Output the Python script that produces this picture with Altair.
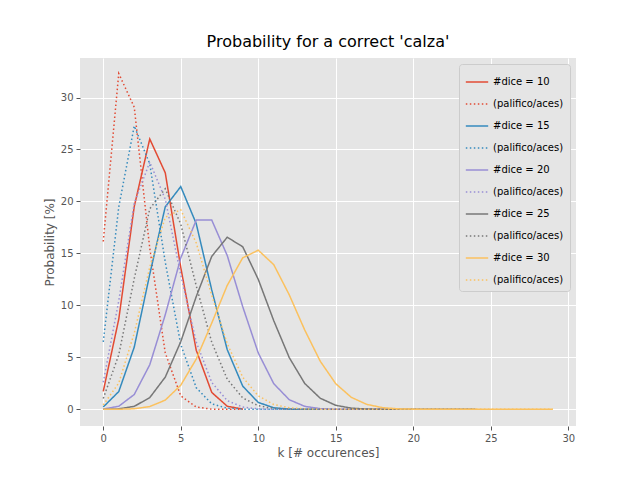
import pandas as pd
import altair as alt

# probabilities in percent (k = 0 .. n-1)
p10 = [1.73, 8.67, 19.51, 26.01, 22.76, 13.66, 5.69, 1.63, 0.30, 0.03]
a10 = [16.15, 32.30, 29.07, 15.50, 5.43, 1.30, 0.22, 0.02, 0.0, 0.0]
p15 = [0.23, 1.71, 5.99, 12.99, 19.48, 21.43, 17.86, 11.48, 5.74, 2.23, 0.67, 0.15, 0.03, 0.0, 0.0]
a15 = [6.49, 19.47, 27.26, 23.62, 14.17, 6.24, 2.08, 0.53, 0.11, 0.02, 0.0, 0.0, 0.0, 0.0, 0.0]
p20 = [0.03, 0.30, 1.43, 4.29, 9.10, 14.56, 18.21, 18.21, 14.80, 9.87, 5.43, 2.47, 0.93, 0.29, 0.07,
       0.01, 0.0, 0.0, 0.0, 0.0]
a20 = [2.61, 10.43, 19.82, 23.79, 20.22, 12.94, 6.47, 2.59, 0.84, 0.22, 0.05, 0.01, 0.0, 0.0, 0.0,
       0.0, 0.0, 0.0, 0.0, 0.0]
p25 = [0.0, 0.05, 0.29, 1.13, 3.10, 6.51, 10.85, 14.72, 16.56, 15.64, 12.51, 8.53, 4.98, 2.49, 1.07,
       0.39, 0.12, 0.03, 0.01, 0.0, 0.0, 0.0, 0.0, 0.0, 0.0]
a25 = [1.05, 5.24, 12.58, 19.29, 21.22, 17.82, 11.88, 6.45, 2.90, 1.10, 0.35, 0.10, 0.02, 0.0, 0.0,
       0.0, 0.0, 0.0, 0.0, 0.0, 0.0, 0.0, 0.0, 0.0, 0.0]
p30 = [0.0, 0.01, 0.06, 0.27, 0.89, 2.32, 4.84, 8.30, 11.93, 14.58, 15.31, 13.92, 11.02, 7.63, 4.63,
       2.47, 1.16, 0.48, 0.17, 0.05, 0.02, 0.0, 0.0, 0.0, 0.0, 0.0, 0.0, 0.0, 0.0, 0.0]
a30 = [0.42, 2.53, 7.33, 13.68, 18.47, 19.21, 16.01, 10.98, 6.31, 3.09, 1.30, 0.47, 0.15, 0.04, 0.01,
       0.0, 0.0, 0.0, 0.0, 0.0, 0.0, 0.0, 0.0, 0.0, 0.0, 0.0, 0.0, 0.0, 0.0, 0.0]

series = [("10", p10), ("10p", a10), ("15", p15), ("15p", a15), ("20", p20), ("20p", a20),
          ("25", p25), ("25p", a25), ("30", p30), ("30p", a30)]
colors = ["#E24A33", "#E24A33", "#348ABD", "#348ABD", "#988ED5", "#988ED5",
          "#777777", "#777777", "#FBC15E", "#FBC15E"]

rows = []
for name, vals in series:
    for k, v in enumerate(vals):
        rows.append({"k": k, "prob": v, "series": name})
df = pd.DataFrame(rows)
order = [s[0] for s in series]
dashes = [[1, 0] if "p" not in s else [1.5, 2.5] for s in order]
label_expr = "test(/p/, datum.label) ? '(palifico/aces)' : '#dice = ' + datum.label"

chart = alt.Chart(df).mark_line(strokeWidth=1.5, clip=True).encode(
    x=alt.X("k:Q", title="k [# occurences]",
            scale=alt.Scale(domain=[-1.5, 30.5], nice=False),
            axis=alt.Axis(values=[0, 5, 10, 15, 20, 25, 30])),
    y=alt.Y("prob:Q", title="Probability [%]",
            scale=alt.Scale(domain=[-1.6, 33.8], nice=False),
            axis=alt.Axis(values=[0, 5, 10, 15, 20, 25, 30])),
    color=alt.Color("series:N", scale=alt.Scale(domain=order, range=colors), title=None,
                    legend=alt.Legend(labelExpr=label_expr)),
    strokeDash=alt.StrokeDash("series:N", scale=alt.Scale(domain=order, range=dashes), title=None,
                              legend=alt.Legend(labelExpr=label_expr)),
    detail="series:N",
).properties(
    width=496, height=368,
    autosize=alt.AutoSizeParams(type="none"),
    padding={"left": 72, "top": 50, "right": 56, "bottom": 46},
    title=alt.TitleParams("Probability for a correct 'calza'", fontSize=16, fontWeight="normal",
                          font="DejaVu Sans", color="black", offset=8),
).configure_view(
    fill="#E5E5E5", stroke=None
).configure_axis(
    gridColor="white", gridWidth=1, domain=False, tickColor="#555555", tickSize=4,
    labelColor="#555555", labelFontSize=10, labelFont="DejaVu Sans",
    titleColor="#555555", titleFontSize=12, titleFont="DejaVu Sans", titleFontWeight="normal",
    labelPadding=3
).configure_legend(
    orient="top-right", offset=6, fillColor="#E5E5E5", strokeColor="#CCCCCC", padding=6,
    cornerRadius=3, labelFontSize=10, labelFont="DejaVu Sans", labelColor="black",
    symbolType="stroke", symbolSize=500, symbolStrokeWidth=1.5, rowPadding=5
)

chart.save("out.html", embed_options={"renderer": "svg", "actions": False})
